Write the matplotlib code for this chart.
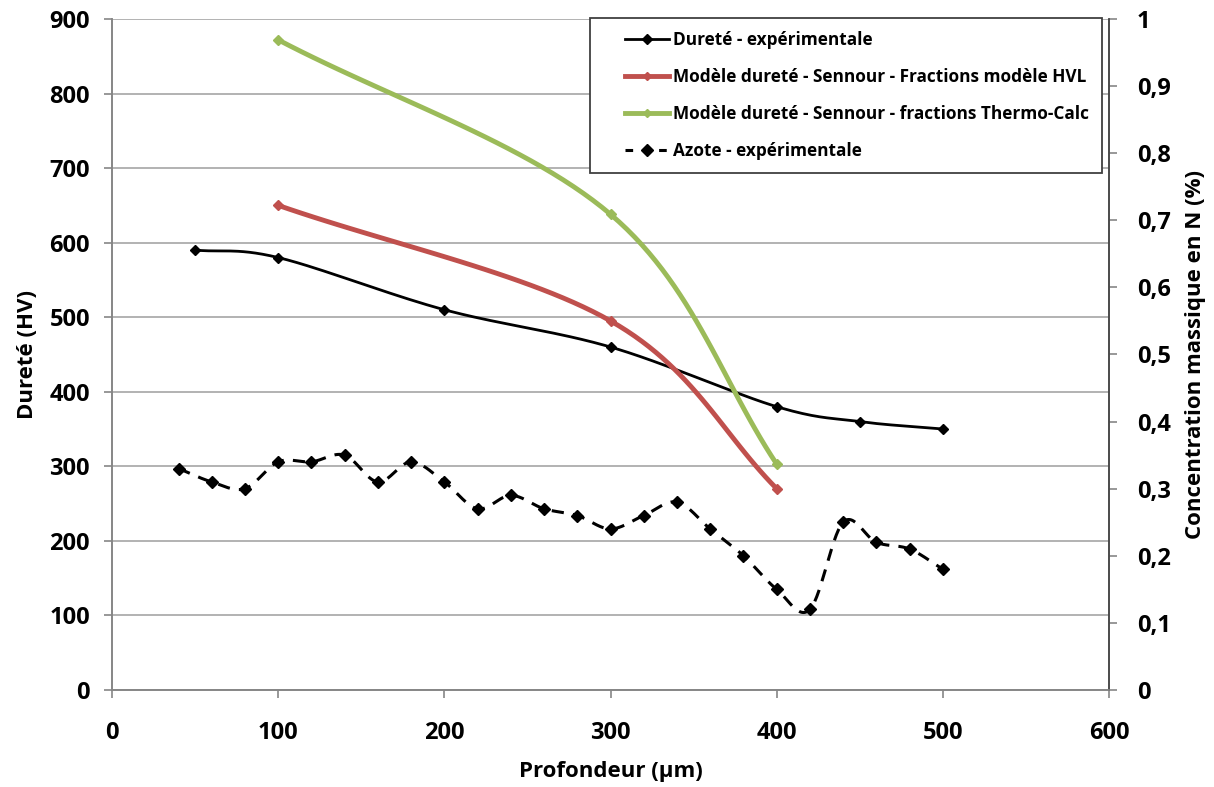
import numpy as np
import matplotlib.pyplot as plt
from matplotlib.legend_handler import HandlerLine2D

plt.rcParams['font.family'] = ['Open Sans', 'DejaVu Sans']

# Dureté expérimentale (HV)
prof_exp = [50, 100, 200, 300, 400, 450, 500]
durete_exp = [590, 580, 510, 460, 380, 360, 350]

# modèles Sennour
prof_mod = [100, 300, 400]
durete_hvl = [650, 495, 270]
durete_tc = [872, 638, 303]

# azote (% massique)
prof_n = [40, 60, 80, 100, 120, 140, 160, 180, 200, 220, 240, 260, 280, 300,
          320, 340, 360, 380, 400, 420, 440, 460, 480, 500]
azote = [0.33, 0.31, 0.30, 0.34, 0.34, 0.35, 0.31, 0.34, 0.31, 0.27, 0.29, 0.27,
         0.26, 0.24, 0.26, 0.28, 0.24, 0.20, 0.15, 0.12, 0.25, 0.22, 0.21, 0.18]


def lisser(x, y, n=30):
    # courbe lissée façon Excel (Catmull-Rom)
    x = np.asarray(x, float)
    y = np.asarray(y, float)
    px = np.concatenate([[2 * x[0] - x[1]], x, [2 * x[-1] - x[-2]]])
    py = np.concatenate([[2 * y[0] - y[1]], y, [2 * y[-1] - y[-2]]])
    xs, ys = [], []
    t = np.linspace(0, 1, n)
    for i in range(1, len(px) - 2):
        for p, out in ((px, xs), (py, ys)):
            p0, p1, p2, p3 = p[i - 1], p[i], p[i + 1], p[i + 2]
            c1 = p1 + (p2 - p0) / 6
            c2 = p2 - (p3 - p1) / 6
            out.extend((1 - t) ** 3 * p1 + 3 * (1 - t) ** 2 * t * c1
                       + 3 * (1 - t) * t ** 2 * c2 + t ** 3 * p2)
    return xs, ys


fig = plt.figure(figsize=(12.14, 7.87), dpi=100)
ax = fig.add_axes([0.0923, 0.1233, 0.8212, 0.8526])
ax2 = ax.twinx()

rouge = '#c0504d'
vert = '#9bbb59'
tirets = (0, (4, 3))

xs, ys = lisser(prof_exp, durete_exp)
ax.plot(xs, ys, color='black', lw=2)
ax.plot(prof_exp, durete_exp, 'D', color='black', ms=5)

xs, ys = lisser(prof_mod, durete_hvl)
ax.plot(xs, ys, color=rouge, lw=3.5)
ax.plot(prof_mod, durete_hvl, 'D', color=rouge, ms=5)

xs, ys = lisser(prof_mod, durete_tc)
ax.plot(xs, ys, color=vert, lw=3.5)
ax.plot(prof_mod, durete_tc, 'D', color=vert, ms=5)

xs, ys = lisser(prof_n, azote)
ax2.plot(xs, ys, color='black', lw=2.2, ls=tirets)
ax2.plot(prof_n, azote, 'D', color='black', ms=6)

# entrées de légende
h1, = ax.plot([], [], color='black', lw=2, marker='D', ms=5)
h2, = ax.plot([], [], color=rouge, lw=3.5, marker='D', ms=4)
h3, = ax.plot([], [], color=vert, lw=3.5, marker='D', ms=4)
h4, = ax.plot([], [], color='black', lw=2.2, ls=(0, (2.5, 3)), marker='D', ms=6)
leg = fig.legend([h1, h2, h3, h4],
                 ['Dureté - expérimentale',
                  'Modèle dureté - Sennour - Fractions modèle HVL',
                  'Modèle dureté - Sennour - fractions Thermo-Calc',
                  'Azote - expérimentale'],
                 loc='upper left', bbox_to_anchor=(590 / 1214, 1 - 18 / 787),
                 fancybox=False, edgecolor='#404040', framealpha=1,
                 prop=dict(weight='bold', size=12.4), labelspacing=1.1,
                 handlelength=3.85, handletextpad=0.2, borderpad=0.75,
                 borderaxespad=0, handler_map={h: HandlerLine2D(xpad=1.28) for h in (h1, h2, h3, h4)})
leg.get_frame().set_linewidth(1.3)

ax.set_xlim(0, 600)
ax.set_ylim(0, 900)
ax2.set_ylim(0, 1)
ax.set_xticks(range(0, 601, 100))
ax.set_yticks(range(0, 901, 100))
ax2.set_yticks(np.arange(0, 1.01, 0.1))
ax2.set_yticklabels(['0'] + [f'{v:.1f}'.replace('.', ',') for v in np.arange(0.1, 0.95, 0.1)] + ['1'])

ax.grid(axis='y', color='#a6a6a6', lw=1.2)
ax.set_axisbelow(True)
for a in (ax, ax2):
    a.spines['top'].set_visible(False)
    for s in ('left', 'right', 'bottom'):
        a.spines[s].set_color('#868686')
        a.spines[s].set_linewidth(1.2)
    a.tick_params(colors='black', labelsize=17, length=6, width=1.2, pad=10)
    a.tick_params(axis='both', color='#868686')
    for lab in a.get_xticklabels() + a.get_yticklabels():
        lab.set_fontweight('bold')
ax2.spines['right'].set_color('#404040')
ax.tick_params(axis='x', pad=16)
ax2.tick_params(axis='y', pad=14)

ax.set_xlabel('Profondeur (µm)', fontsize=16, fontweight='bold', labelpad=12)
ax.set_ylabel('Dureté (HV)', fontsize=16, fontweight='bold', labelpad=8)
ax2.set_ylabel('Concentration massique en N (%)', fontsize=16, fontweight='bold', labelpad=10)

fig.savefig('out.png', dpi=100)
